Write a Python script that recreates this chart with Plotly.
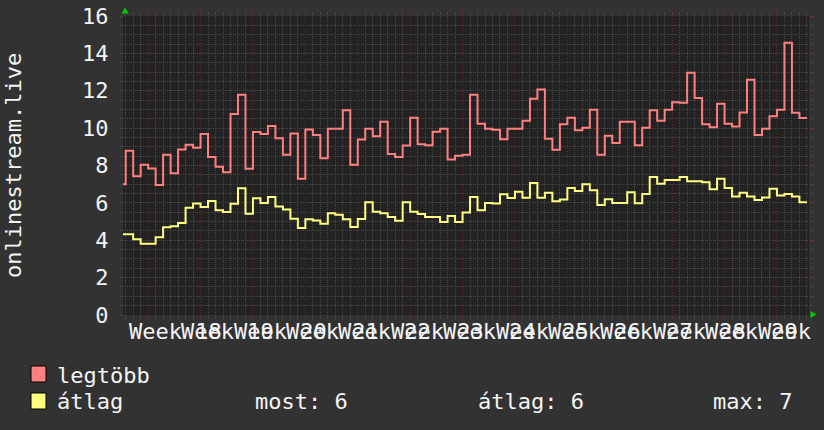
import numpy as np
import plotly.graph_objects as go

# ---- data (daily values, day -1 .. 90) ----
legtobb = [7.0, 8.79, 7.43, 8.04, 7.84, 6.95, 8.57, 7.59, 8.86, 9.11, 8.95, 9.68, 8.46, 7.93, 7.64,
           10.75, 11.79, 7.82, 9.79, 9.68, 10.11, 9.46, 8.57, 9.71, 7.29, 9.93, 9.63, 8.39, 9.96,
           9.96, 10.96, 8.04, 9.39, 9.96, 9.57, 10.34, 8.61, 8.46, 9.07, 10.55, 9.14, 9.09, 9.80,
           9.96, 8.32, 8.52, 8.57, 11.79, 10.23, 9.96, 9.91, 9.41, 9.96, 9.96, 10.39, 11.57, 12.07,
           9.43, 8.84, 10.21, 10.55, 9.88, 10.02, 10.98, 8.57, 9.59, 9.21, 10.34, 10.34, 9.09, 10.02,
           10.96, 10.39, 10.98, 11.39, 11.36, 12.96, 11.61, 10.21, 10.05, 11.30, 10.23, 10.09, 10.84,
           12.59, 9.63, 9.96, 10.64, 10.98, 14.57, 10.82, 10.54]
atlag = [4.32, 4.32, 4.06, 3.81, 3.81, 4.16, 4.69, 4.75, 4.92, 5.74, 5.97, 5.78, 6.10, 5.60, 5.51,
         5.95, 6.78, 5.42, 6.25, 6.00, 6.32, 5.80, 5.65, 5.15, 4.65, 5.12, 5.06, 4.88, 5.45, 5.36,
         5.12, 4.71, 5.14, 6.04, 5.52, 5.45, 5.24, 5.04, 6.04, 5.52, 5.40, 5.25, 5.25, 4.98, 5.30,
         4.98, 5.48, 6.32, 5.60, 5.99, 5.97, 6.46, 6.26, 6.59, 6.27, 7.07, 6.28, 6.54, 6.09, 6.18,
         6.79, 6.63, 7.00, 6.68, 5.89, 6.20, 6.00, 6.00, 6.57, 5.98, 6.48, 7.39, 7.02, 7.23, 7.23,
         7.39, 7.16, 7.16, 7.11, 6.73, 7.29, 6.80, 6.34, 6.54, 6.34, 6.16, 6.29, 6.75, 6.39, 6.48,
         6.34, 6.04]
first_day = -1
week_starts = [3 + 7 * k for k in range(13)]
week_labels = [f"Week {n}" for n in range(18, 31)]
y_title = "onlinestream.live"
series_names = ["legtöbb", "átlag"]

# ---- geometry helpers ----
W, H = 824, 430
L, R, T, B = 123, 809, 16, 315
def pxx(px):
    return (px - L) / (R - L)
def pxy(py):
    return (B - py) / (B - T)

FONT = "DejaVu Sans Mono"
FS = 22
TXT = "#f4f4f4"
RED = "#ff8080"
YEL = "#ffff80"
GRID_MAJ_Y = "rgba(125,52,52,1)"
GRID_MAJ_X = "rgba(120,50,50,0.75)"
GRID_MIN = "#474747"

n = len(legtobb)
xs = np.arange(first_day, first_day + n + 1)
red_y = legtobb + [legtobb[-1]]
yel_y = atlag + [atlag[-1]]

# minor grid positions that do not coincide with the major ones
x_minor = [d for d in range(0, 92) if d not in week_starts]
y_minor = [v / 2 for v in range(0, 33) if v % 4 != 0]

fig = go.Figure()
fig.add_trace(go.Scatter(x=xs, y=red_y, mode="lines", line=dict(color=RED, width=2, shape="hv"),
                         showlegend=False, hoverinfo="skip"))
fig.add_trace(go.Scatter(x=xs, y=yel_y, mode="lines", line=dict(color=YEL, width=2, shape="hv"),
                         showlegend=False, hoverinfo="skip"))

fig.update_layout(
    width=W, height=H,
    margin=dict(l=L, r=W - R, t=T, b=H - B, pad=0),
    paper_bgcolor="#323232", plot_bgcolor="#222222",
    showlegend=False,
    font=dict(family=FONT, size=FS, color=TXT),
    xaxis=dict(range=[-0.36, 91.28], tickmode="array", tickvals=week_starts, showticklabels=False,
               automargin=False,
               showgrid=True, gridcolor=GRID_MAJ_X, griddash="1px,2px", gridwidth=1, zeroline=False,
               ticks="outside", ticklen=3, tickcolor=GRID_MAJ_X, mirror="ticks",
               minor=dict(tickmode="array", tickvals=x_minor, showgrid=True, gridcolor=GRID_MIN,
                          griddash="1px,1px", ticks="outside", ticklen=3, tickcolor=GRID_MIN)),
    yaxis=dict(range=[0, 16], tickmode="linear", tick0=0, dtick=2, showgrid=True, gridcolor=GRID_MAJ_Y,
               automargin=False,
               griddash="1px,1px", zeroline=False, ticks="outside", ticklen=3, tickcolor=GRID_MAJ_Y,
               mirror="ticks", tickfont=dict(family=FONT, size=FS, color=TXT), ticklabelstandoff=6,
               minor=dict(tickmode="array", tickvals=y_minor, showgrid=True, gridcolor=GRID_MIN,
                          griddash="1px,1px", ticks="outside", ticklen=3, tickcolor=GRID_MIN)),
)

ann = []
for ws, lab in zip(week_starts, week_labels):
    ann.append(dict(x=ws + 3.5, xref="x", y=pxy(331), yref="paper", text=lab, showarrow=False,
                    xanchor="center", yanchor="middle", xshift=1,
                    font=dict(family=FONT, size=FS, color=TXT)))
ann.append(dict(x=pxx(13), xref="paper", y=pxy(166), yref="paper", text=y_title, textangle=-90,
                showarrow=False, xanchor="center", yanchor="middle",
                font=dict(family=FONT, size=FS, color=TXT)))

most = atlag[-1]
avg = float(np.mean(atlag))
mx = max(atlag)
legend_rows = [
    (series_names[0], 58, 375),
    (series_names[1], 58, 401),
    (f"most: {most:.0f}", 256, 401),
    (f"átlag: {avg:.0f}", 479, 401),
    (f"max: {mx:.0f}", 714, 401),
]
for text, px, py in legend_rows:
    ann.append(dict(x=pxx(px - 3), xref="paper", y=pxy(py), yref="paper", text=text, showarrow=False,
                    xanchor="left", yanchor="middle", font=dict(family=FONT, size=FS, color=TXT)))
fig.update_layout(annotations=ann)

shapes = []
for col, (y0, y1) in zip([RED, YEL], [(366, 382), (393, 409)]):
    shapes.append(dict(type="rect", xref="paper", yref="paper", x0=pxx(31), x1=pxx(46),
                       y0=pxy(y1), y1=pxy(y0), fillcolor=col, line=dict(color="black", width=1)))
# green axis arrows
up = f"M {pxx(121.5)},{pxy(13.5)} L {pxx(128.5)},{pxy(13.5)} L {pxx(125)},{pxy(7.5)} Z"
rt = f"M {pxx(810.5)},{pxy(311)} L {pxx(810.5)},{pxy(318)} L {pxx(816.5)},{pxy(314.5)} Z"
for p in (up, rt):
    shapes.append(dict(type="path", xref="paper", yref="paper", path=p, fillcolor="#00cc00",
                       line=dict(color="#00cc00", width=0)))
fig.update_layout(shapes=shapes)

fig.write_html("out.html")
